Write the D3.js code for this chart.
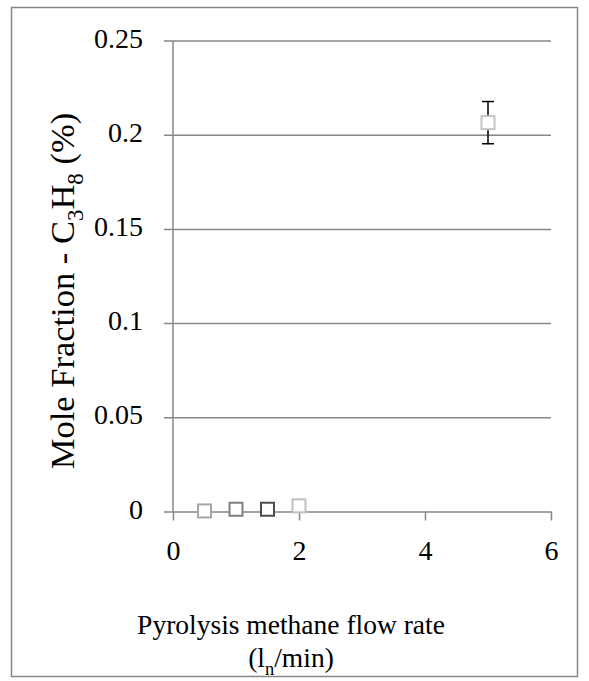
<!DOCTYPE html>
<html>
<head>
<meta charset="utf-8">
<script src="https://cdn.jsdelivr.net/npm/d3@7"></script>
<style>
  html, body { margin: 0; padding: 0; background: #fff; }
</style>
</head>
<body>
<svg id="chart" width="589" height="681"></svg>
<script>
// Propane mole fraction vs. pyrolysis methane flow rate
const flowRates = [0.5, 1.0, 1.5, 2.0, 5.0];
const moleFractions = [0.0003, 0.0012, 0.0012, 0.0030, 0.2064];
const errorHalfWidths = [0, 0, 0, 0, 0.0112];
const markerStrokes = ["#a6a6a6", "#7f7f7f", "#4d4d4d", "#bfbfbf", "#c4c4c4"];
const xTicks = [0, 2, 4, 6];
const yTicks = [0, 0.05, 0.1, 0.15, 0.2, 0.25];
const yTickLabels = ["0", "0.05", "0.1", "0.15", "0.2", "0.25"];

const serif = "'Liberation Serif'";
const svg = d3.select("#chart");
const plot = { left: 173, right: 551, top: 40.5, bottom: 511.5 };
const gridColor = "#878787";

// outer frame
svg.append("rect")
  .attr("x", 11.5).attr("y", 7.5)
  .attr("width", 566).attr("height", 669)
  .attr("fill", "#fff").attr("stroke", gridColor).attr("stroke-width", 1.5);

const x = d3.scaleLinear().domain([0, 6]).range([plot.left, plot.right]);
const y = d3.scaleLinear().domain([0, 0.25]).range([plot.bottom, plot.top]);

// horizontal gridlines with outward ticks
const yAxis = d3.axisLeft(y)
  .tickValues(yTicks)
  .tickSize(-(plot.right - plot.left))
  .tickFormat((d, i) => yTickLabels[i]);
const gy = svg.append("g")
  .attr("transform", `translate(${plot.left},0)`)
  .call(yAxis);
gy.select(".domain").remove();
gy.selectAll(".tick line")
  .attr("x1", -9)
  .attr("stroke", gridColor).attr("stroke-width", 1.5);
gy.selectAll(".tick text")
  .attr("x", -30).attr("dy", "6.5px")
  .attr("fill", "#000")
  .style("font-family", serif)
  .style("font-size", "28px");

// vertical axis line
svg.append("line")
  .attr("x1", plot.left).attr("x2", plot.left)
  .attr("y1", plot.top).attr("y2", plot.bottom)
  .attr("stroke", gridColor).attr("stroke-width", 1.5);

// x axis with downward ticks
const xAxis = d3.axisBottom(x).tickValues(xTicks).tickSize(9).tickFormat(d3.format("d"));
const gx = svg.append("g")
  .attr("transform", `translate(0,${plot.bottom})`)
  .call(xAxis);
gx.select(".domain").remove();
gx.selectAll(".tick line").attr("stroke", gridColor).attr("stroke-width", 1.5);
gx.selectAll(".tick text")
  .attr("y", 48).attr("dy", 0)
  .attr("fill", "#000")
  .style("font-family", serif)
  .style("font-size", "28px");

// error bars
const eb = svg.append("g");
flowRates.forEach((f, i) => {
  const e = errorHalfWidths[i];
  if (!e) return;
  const cx = x(f), y1 = y(moleFractions[i] + e), y0 = y(moleFractions[i] - e);
  eb.append("line").attr("x1", cx).attr("x2", cx).attr("y1", y1).attr("y2", y0)
    .attr("stroke", "#000").attr("stroke-width", 1.5);
  [y1, y0].forEach(yy => eb.append("line")
    .attr("x1", cx - 6).attr("x2", cx + 6).attr("y1", yy).attr("y2", yy)
    .attr("stroke", "#000").attr("stroke-width", 1.5));
});

// square markers
const ms = 13;
svg.append("g").selectAll("rect")
  .data(flowRates)
  .join("rect")
  .attr("x", d => x(d) - ms / 2)
  .attr("y", (d, i) => y(moleFractions[i]) - ms / 2)
  .attr("width", ms).attr("height", ms)
  .attr("fill", "#fff")
  .attr("stroke", (d, i) => markerStrokes[i])
  .attr("stroke-width", 2);

// axis titles
const xt = svg.append("text")
  .attr("text-anchor", "middle")
  .style("font-family", serif)
  .style("font-size", "27.5px");
xt.append("tspan").attr("x", 291).attr("y", 634).text("Pyrolysis methane flow rate");
xt.append("tspan").attr("x", 291).attr("y", 667).text("(l");
xt.append("tspan").attr("dy", 8).style("font-size", "18.5px").text("n");
xt.append("tspan").attr("dy", -8).text("/min)");

const yt = svg.append("text")
  .attr("text-anchor", "middle")
  .attr("transform", "translate(74,291) rotate(-90)")
  .style("font-family", serif)
  .style("font-size", "34.5px");
yt.append("tspan").text("Mole Fraction - C");
yt.append("tspan").attr("dy", 9).style("font-size", "23px").text("3");
yt.append("tspan").attr("dy", -9).text("H");
yt.append("tspan").attr("dy", 9).style("font-size", "23px").text("8");
yt.append("tspan").attr("dy", -9).text(" (%)");
</script>
</body>
</html>
